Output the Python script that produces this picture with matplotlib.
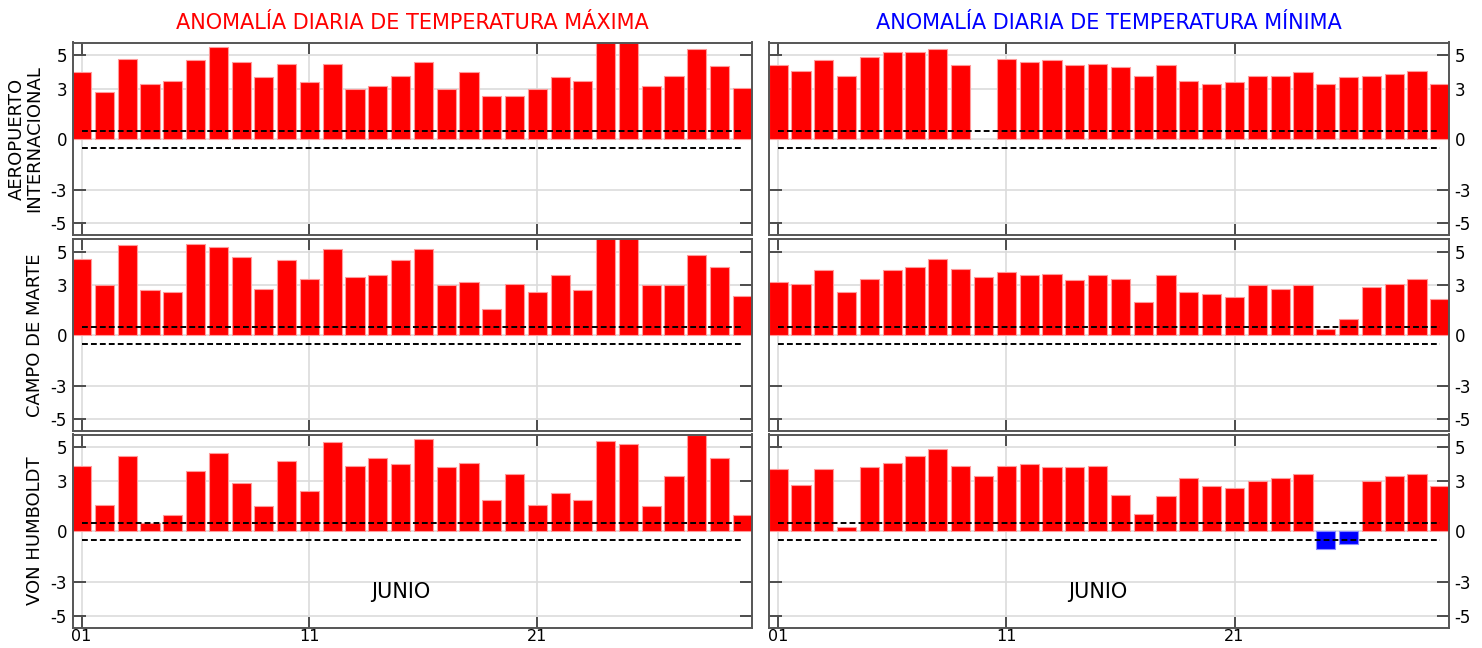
import numpy as np
import matplotlib
matplotlib.use("Agg")
import matplotlib.pyplot as plt

plt.rcParams['font.family'] = ['DejaVu Sans']
plt.rcParams['axes.unicode_minus'] = False

# ==============================
# Data (anomalies, June, days 1-30)
# ==============================
days = np.arange(1, 31)

stations = ["AEROPUERTO\nINTERNACIONAL", "CAMPO DE MARTE", "VON HUMBOLDT"]

aero_max = [3.98, 2.78, 4.78, 3.28, 3.48, 4.68, 5.48, 4.58, 3.68, 4.48,
            3.38, 4.48, 2.98, 3.18, 3.78, 4.58, 2.98, 3.98, 2.58, 2.58,
            2.98, 3.68, 3.48, 6.20, 6.20, 3.18, 3.78, 5.38, 4.38, 3.06]
aero_min = [4.40, 4.08, 4.68, 3.78, 4.88, 5.18, 5.18, 5.38, 4.40, np.nan,
            4.78, 4.58, 4.68, 4.40, 4.48, 4.28, 3.78, 4.40, 3.48, 3.28,
            3.38, 3.78, 3.78, 3.98, 3.28, 3.68, 3.78, 3.90, 4.08, 3.28]

campo_max = [4.58, 2.98, 5.40, 2.68, 2.58, 5.48, 5.28, 4.70, 2.78, 4.48,
             3.38, 5.18, 3.48, 3.58, 4.48, 5.18, 2.98, 3.18, 1.58, 3.08,
             2.58, 3.58, 2.68, 6.20, 6.20, 2.98, 2.98, 4.80, 4.08, 2.38]
campo_min = [3.18, 3.08, 3.88, 2.58, 3.38, 3.88, 4.08, 4.58, 3.98, 3.48,
             3.78, 3.58, 3.68, 3.28, 3.58, 3.38, 1.98, 3.58, 2.58, 2.48,
             2.28, 2.98, 2.78, 2.98, 0.36, 0.98, 2.88, 3.08, 3.38, 2.18]

humb_max = [3.88, 1.56, 4.48, 0.48, 0.98, 3.58, 4.68, 2.88, 1.48, 4.18,
            2.38, 5.28, 3.88, 4.38, 3.98, 5.50, 3.80, 4.08, 1.88, 3.38,
            1.56, 2.28, 1.88, 5.38, 5.20, 1.48, 3.28, 5.70, 4.38, 0.98]
humb_min = [3.68, 2.76, 3.68, 0.26, 3.80, 4.08, 4.48, 4.88, 3.88, 3.28,
            3.88, 3.98, 3.80, 3.80, 3.88, 2.18, 1.06, 2.08, 3.18, 2.68,
            2.60, 2.98, 3.18, 3.38, -1.02, -0.74, 2.98, 3.28, 3.38, 2.68]

max_series = [aero_max, campo_max, humb_max]
min_series = [aero_min, campo_min, humb_min]

TITLE_MAX = "ANOMALÍA DIARIA DE TEMPERATURA MÁXIMA"
TITLE_MIN = "ANOMALÍA DIARIA DE TEMPERATURA MÍNIMA"

yticks = [-5, -3, 0, 3, 5]
xticks = [1, 11, 21]
xticklabels = ["01", "11", "21"]

# ==============================
# Layout (pixel boxes)
# ==============================
W, H = 1482, 648
col_x = [(72.5, 751.5), (769, 1449)]
row_y = [(42.5, 235), (239, 431), (434.5, 627.5)]


def px_box(x0, x1, y0, y1):
    return [x0 / W, 1 - y1 / H, (x1 - x0) / W, (y1 - y0) / H]


def style_axes(ax, right_labels, bottom_labels):
    ax.set_xlim(0.6, 30.4)
    ax.set_ylim(-5.7, 5.75)
    ax.set_yticks(yticks)
    ax.set_yticklabels([str(t) for t in yticks])
    ax.set_xticks(xticks)
    ax.set_xticklabels(xticklabels if bottom_labels else [])
    ax.grid(True, color="#dcdcdc", lw=1.2, zorder=0)
    ax.set_axisbelow(True)
    for s in ax.spines.values():
        s.set_color("#555555")
        s.set_linewidth(1.4)
    ax.tick_params(axis="both", direction="in", top=True, right=True,
                   color="#333333", width=1.2, labelsize=12)
    ax.tick_params(axis="y", length=9, pad=4)
    ax.tick_params(axis="x", length=8, pad=1, labelsize=11.5)
    if right_labels:
        ax.tick_params(axis="y", labelleft=False, labelright=True)
    else:
        ax.tick_params(axis="y", labelleft=True, labelright=False)


def draw_bars(ax, vals):
    vals = np.array(vals, dtype=float)
    colors = ["#ff0000" if v >= 0 else "#0000ff" for v in np.nan_to_num(vals)]
    edges = ["#ff9a9a" if v >= 0 else "#8a8aff" for v in np.nan_to_num(vals)]
    ax.bar(days, vals, width=0.84, color=colors, edgecolor=edges,
           linewidth=0.8, zorder=2)
    ax.hlines([0.5, -0.5], 1, 30, colors="black", linestyles=(0, (3, 1.6)),
              lw=1.4, zorder=3)


fig = plt.figure(figsize=(W / 100, H / 100), dpi=100)

for r in range(3):
    for c in range(2):
        ax = fig.add_axes(px_box(col_x[c][0], col_x[c][1], row_y[r][0], row_y[r][1]))
        vals = max_series[r] if c == 0 else min_series[r]
        draw_bars(ax, vals)
        style_axes(ax, right_labels=(c == 1), bottom_labels=(r == 2))
        if c == 0:
            ax.set_ylabel(stations[r], fontsize=13, labelpad=5, linespacing=1.0)
        if r == 0:
            ax.set_title(TITLE_MAX if c == 0 else TITLE_MIN, fontsize=15,
                         color="#ff0000" if c == 0 else "#0000ff", pad=10)
        if r == 2:
            ax.text(15, -3.6, "JUNIO", fontsize=15, ha="center", va="center")

fig.savefig("out.png", dpi=100)
